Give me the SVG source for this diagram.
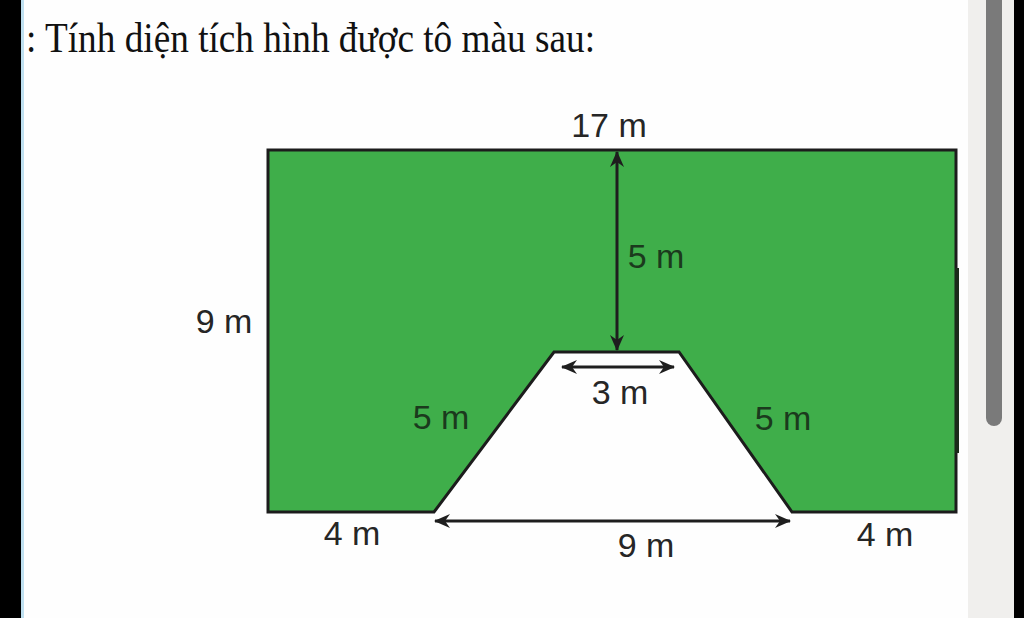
<svg xmlns="http://www.w3.org/2000/svg" width="1024" height="618" viewBox="0 0 1024 618">
<style>
.lbl{font-family:"Liberation Sans",Arial,sans-serif;font-size:34px;fill:#262626}
.lblg{font-family:"Liberation Sans",Arial,sans-serif;font-size:34px;fill:#1b3a1d}
.dim{stroke:#1e1e1e;stroke-width:3;fill:none}
</style>
<defs>
<marker id="ah" viewBox="0 0 16 14" refX="15" refY="7" markerWidth="16" markerHeight="14" markerUnits="userSpaceOnUse" orient="auto-start-reverse">
<path d="M0,0 L16,7 L0,14 L5,7 Z" fill="#1e1e1e"/>
</marker>
</defs>
<rect x="0" y="0" width="1024" height="618" fill="#fefefe"/>
<rect x="0" y="0" width="21" height="618" fill="#000"/>
<rect x="21" y="0" width="3" height="618" fill="#bfe0f0"/>
<rect x="968" y="0" width="46" height="618" fill="#f0efed"/>
<rect x="986" y="-10" width="16" height="436" rx="8" fill="#7a7a7a"/>
<rect x="1014" y="0" width="10" height="618" fill="#000"/>
<text x="26" y="52" font-family="'Liberation Serif','Times New Roman',serif" font-size="42" fill="#111" textLength="569" lengthAdjust="spacingAndGlyphs">: Tính diện tích hình được tô màu sau:</text>
<g id="shape">
<path d="M268,150 H956 V512 H792 L679,352 H554 L434,512 H268 Z" fill="#3fae4a" stroke="#1c1c1c" stroke-width="3" stroke-linejoin="miter"/>
<line x1="957" y1="268" x2="957" y2="453" stroke="#1a2a1a" stroke-width="4"/>
</g>
<g id="connectors">
<line class="dim" x1="617" y1="152" x2="617" y2="350" marker-start="url(#ah)" marker-end="url(#ah)"/>
<line class="dim" x1="562" y1="367" x2="674" y2="367" marker-start="url(#ah)" marker-end="url(#ah)"/>
<line class="dim" x1="435" y1="521" x2="790" y2="521" marker-start="url(#ah)" marker-end="url(#ah)"/>
</g>
<g id="labels">
<text class="lbl" x="609" y="137" text-anchor="middle">17 m</text>
<text class="lblg" x="656" y="268" text-anchor="middle">5 m</text>
<text class="lbl" x="224" y="333" text-anchor="middle">9 m</text>
<text class="lbl" x="620" y="404" text-anchor="middle">3 m</text>
<text class="lblg" x="441" y="429" text-anchor="middle">5 m</text>
<text class="lblg" x="783" y="430" text-anchor="middle">5 m</text>
<text class="lbl" x="352" y="545" text-anchor="middle">4 m</text>
<text class="lbl" x="646" y="557" text-anchor="middle">9 m</text>
<text class="lbl" x="885" y="546" text-anchor="middle">4 m</text>
</g>
</svg>
